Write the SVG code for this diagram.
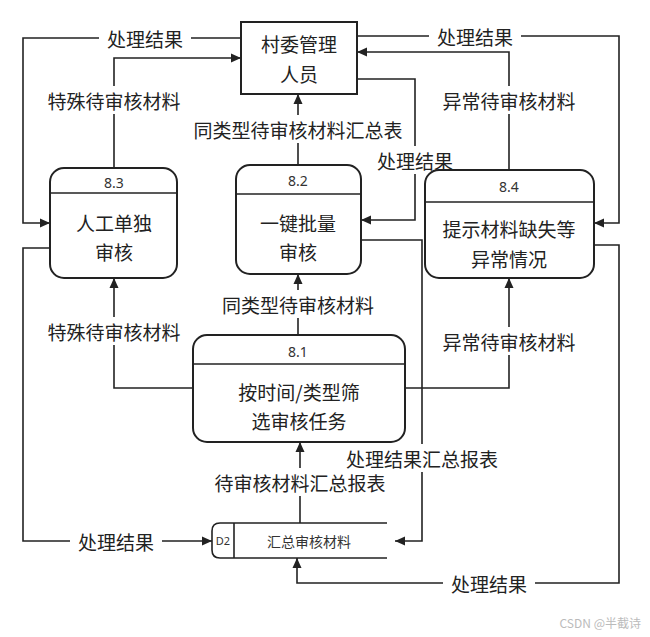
<svg xmlns="http://www.w3.org/2000/svg" width="650" height="637" viewBox="0 0 650 637">
<defs>
<marker id="arr" viewBox="0 0 10 10" refX="10" refY="5" markerWidth="10" markerHeight="10" markerUnits="userSpaceOnUse" orient="auto">
<path d="M0,0.5 L10,5 L0,9.5 Z" fill="#222"/>
</marker>
<style>
.ln{fill:none;stroke:#222;stroke-width:1.6}
.box{fill:#fff;stroke:#222;stroke-width:2}
.t{font-family:"Noto Sans CJK SC","Noto Sans",sans-serif;font-size:19px;fill:#222;text-anchor:middle;dominant-baseline:central}
.n{font-family:"Noto Sans","DejaVu Sans",sans-serif;font-size:14px;fill:#333;text-anchor:middle;dominant-baseline:central}
.bg{fill:#fff}
</style>
</defs>
<rect width="650" height="637" fill="#fff"/>
<g id="connectors">
<path class="ln" d="M241,38 H23 V223 H50" marker-end="url(#arr)"/>
<path class="ln" d="M114,168 V58 H241" marker-end="url(#arr)"/>
<path class="ln" d="M298,165 V94" marker-end="url(#arr)"/>
<path class="ln" d="M357,79 H415 V220 H361" marker-end="url(#arr)"/>
<path class="ln" d="M509,170 V52 H357" marker-end="url(#arr)"/>
<path class="ln" d="M357,36 H619 V223 H594" marker-end="url(#arr)"/>
<path class="ln" d="M298,335 V274" marker-end="url(#arr)"/>
<path class="ln" d="M193,388 H114 V278" marker-end="url(#arr)"/>
<path class="ln" d="M405,388 H509 V278" marker-end="url(#arr)"/>
<path class="ln" d="M300,523 V442" marker-end="url(#arr)"/>
<path class="ln" d="M361,240 H422 V541 H395" marker-end="url(#arr)"/>
<path class="ln" d="M50,248 H23 V541 H212" marker-end="url(#arr)"/>
<path class="ln" d="M594,245 H619 V583 H297 V558" marker-end="url(#arr)"/>
<rect class="bg" x="99" y="26" width="92" height="24"/><text class="t" x="145" y="38">处理结果</text>
<rect class="bg" x="40" y="86" width="148" height="28"/><text class="t" x="114" y="100">特殊待审核材料</text>
<rect class="bg" x="189" y="115" width="218" height="28"/><text class="t" x="298" y="129">同类型待审核材料汇总表</text>
<rect class="bg" x="373" y="146" width="84" height="28"/><text class="t" x="415" y="160">处理结果</text>
<rect class="bg" x="435" y="86" width="148" height="28"/><text class="t" x="509" y="100">异常待审核材料</text>
<rect class="bg" x="429" y="24" width="92" height="24"/><text class="t" x="475" y="36">处理结果</text>
<rect class="bg" x="216" y="290" width="164" height="28"/><text class="t" x="298" y="304">同类型待审核材料</text>
<rect class="bg" x="40" y="317" width="148" height="28"/><text class="t" x="114" y="331">特殊待审核材料</text>
<rect class="bg" x="435" y="327" width="148" height="28"/><text class="t" x="509" y="341">异常待审核材料</text>
<rect class="bg" x="206" y="468" width="188" height="28"/><text class="t" x="300" y="482">待审核材料汇总报表</text>
<rect class="bg" x="340" y="444" width="164" height="28"/><text class="t" x="422" y="458">处理结果汇总报表</text>
<rect class="bg" x="70" y="529" width="92" height="24"/><text class="t" x="116" y="541">处理结果</text>
<rect class="bg" x="443" y="571" width="92" height="24"/><text class="t" x="489" y="583">处理结果</text>
</g>
<g id="villager">
<rect class="box" x="241" y="22" width="116" height="72"/>
<text class="t" x="299" y="43">村委管理</text>
<text class="t" x="299" y="73">人员</text>
</g>
<g id="p83">
<rect class="box" x="50" y="168" width="127" height="110" rx="14"/>
<line class="ln" x1="50" y1="193" x2="177" y2="193" stroke-width="2"/>
<text class="n" x="114" y="182">8.3</text>
<text class="t" x="114" y="222">人工单独</text>
<text class="t" x="114" y="251">审核</text>
</g>
<g id="p82">
<rect class="box" x="236" y="165" width="125" height="109" rx="14"/>
<line class="ln" x1="236" y1="194" x2="361" y2="194" stroke-width="2"/>
<text class="n" x="298" y="180">8.2</text>
<text class="t" x="298" y="222">一键批量</text>
<text class="t" x="298" y="251">审核</text>
</g>
<g id="p84">
<rect class="box" x="425" y="170" width="169" height="108" rx="14"/>
<line class="ln" x1="425" y1="202" x2="594" y2="202" stroke-width="2"/>
<text class="n" x="509" y="186">8.4</text>
<text class="t" x="509" y="228">提示材料缺失等</text>
<text class="t" x="509" y="258">异常情况</text>
</g>
<g id="p81">
<rect class="box" x="193" y="335" width="212" height="107" rx="14"/>
<line class="ln" x1="193" y1="364" x2="405" y2="364" stroke-width="2"/>
<text class="n" x="298" y="351">8.1</text>
<text class="t" x="299" y="391">按时间/类型筛</text>
<text class="t" x="299" y="420">选审核任务</text>
</g>
<g id="d2">
<path d="M387,523 H220 Q212,523 212,531 V550 Q212,558 220,558 H387" fill="#fff" stroke="#222" stroke-width="1.6"/>
<line class="ln" x1="234" y1="523" x2="234" y2="558"/>
<text class="n" x="223" y="540" style="font-size:11px">D2</text>
<text class="n" x="309" y="541" style="font-family:'Noto Sans CJK SC',sans-serif;font-size:14px">汇总审核材料</text>
</g>
<text x="641" y="622" style="font-family:'Noto Sans CJK SC',sans-serif;font-size:12px;fill:#bbb;text-anchor:end;dominant-baseline:central">CSDN @半截诗</text>
</svg>
